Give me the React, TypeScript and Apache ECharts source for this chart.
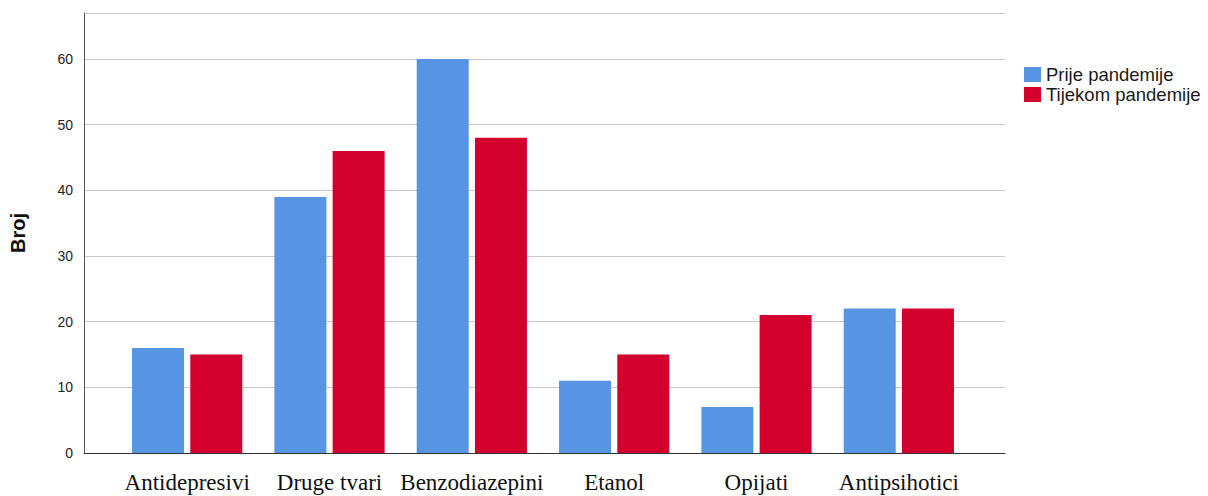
import React, { useEffect, useRef } from "react";
import * as echarts from "echarts";

const categories = ["Antidepresivi", "Druge tvari", "Benzodiazepini", "Etanol", "Opijati", "Antipsihotici"];
const seriesNames = ["Prije pandemije", "Tijekom pandemije"];
const prije = [16, 39, 60, 11, 7, 22];
const tijekom = [15, 46, 48, 15, 21, 22];
const colors = ["#5795E2", "#D3002E"];

export default function App() {
  const ref = useRef<HTMLDivElement>(null);
  useEffect(() => {
    document.body.style.margin = "0";
    if (!ref.current) return;
    const chart = echarts.init(ref.current, null, { renderer: "svg" });
    chart.setOption({
      animation: false,
      backgroundColor: "#ffffff",
      legend: {
        orient: "vertical",
        left: 1019,
        top: 60,
        itemWidth: 17,
        itemHeight: 15,
        itemGap: 1,
        icon: "rect",
        textStyle: { fontFamily: "Arial, Liberation Sans, sans-serif", fontSize: 18.5, color: "#1a1a1a", lineHeight: 19 },
        data: seriesNames,
      },
      grid: [
        { left: 83, right: 203, top: 13, bottom: 43 },
        { left: 116, right: 238, top: 13, bottom: 43 },
      ],
      xAxis: [
        {
          gridIndex: 0,
          type: "value",
          min: 0,
          max: 1,
          axisLine: { show: true, lineStyle: { color: "#333", width: 1 } },
          axisTick: { show: false },
          axisLabel: { show: false },
          splitLine: { show: false },
        },
        {
          gridIndex: 1,
          type: "category",
          data: categories,
          axisLine: { show: false },
          axisTick: { show: false },
          axisLabel: { fontFamily: "Liberation Serif, Times New Roman, serif", fontSize: 23, color: "#111", margin: 18, interval: 0 },
        },
      ],
      yAxis: [
        {
          gridIndex: 0,
          type: "value",
          min: 0,
          max: 67,
          interval: 10,
          name: "Broj",
          nameLocation: "middle",
          nameGap: 56,
          nameTextStyle: { fontFamily: "Arial, Liberation Sans, sans-serif", fontSize: 20, fontWeight: "bold", color: "#111" },
          axisLine: { show: true, lineStyle: { color: "#555", width: 1 } },
          axisTick: { show: false },
          axisLabel: { fontFamily: "Arial, Liberation Sans, sans-serif", fontSize: 14, color: "#222", margin: 11, showMaxLabel: false },
          splitLine: { show: true, lineStyle: { color: "#c8c8c8", width: 1 } },
        },
        {
          gridIndex: 1,
          type: "value",
          min: 0,
          max: 67,
          interval: 10,
          show: false,
          splitLine: { show: false },
        },
      ],
      series: [
        {
          name: seriesNames[0],
          type: "bar",
          xAxisIndex: 1,
          yAxisIndex: 1,
          data: prije,
          barWidth: 52,
          barGap: "12%",
          itemStyle: { color: colors[0] },
        },
        {
          name: seriesNames[1],
          type: "bar",
          xAxisIndex: 1,
          yAxisIndex: 1,
          data: tijekom,
          barWidth: 52,
          barGap: "12%",
          itemStyle: { color: colors[1] },
        },
      ],
    });
    return () => chart.dispose();
  }, []);
  return <div ref={ref} style={{ width: 1208, height: 496 }} />;
}
